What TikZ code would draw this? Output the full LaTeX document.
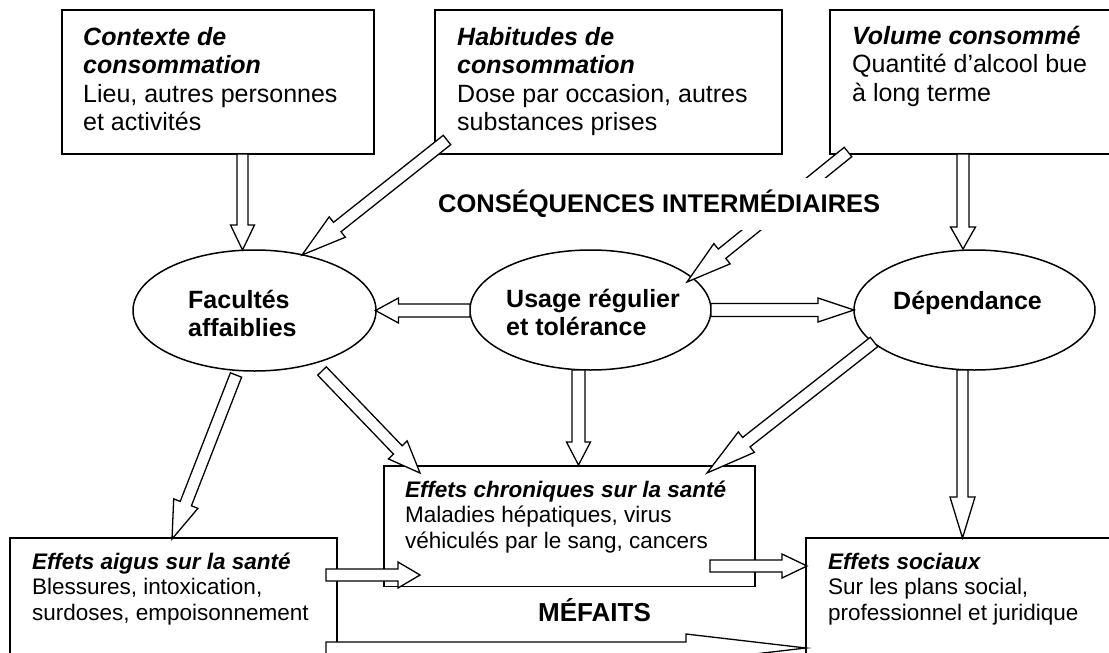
\documentclass[tikz,border=0pt]{standalone}
\usepackage{fontspec}
\setmainfont{Liberation Sans}
\usetikzlibrary{calc,shapes.geometric}
\newcommand{\bigfont}{\fontsize{25}{28.4}\selectfont}
\newcommand{\smallfont}{\fontsize{22.5}{25.7}\selectfont}
\newcommand{\ellfont}{\fontsize{25}{28.5}\selectfont\bfseries}
\newcommand{\hd}[1]{\textbf{\textit{#1}}}
% tail, tip, head length, head half width, shaft half width
\newcommand{\hollowarrow}[5]{%
  \draw[harrow] let \p1=($(#2)-(#1)$), \n1={atan2(\y1,\x1)} in
    ($(#1)+(\n1+90:#5pt)$)
 -- ($(#2)+(\n1+180:#3pt)+(\n1+90:#5pt)$)
 -- ($(#2)+(\n1+180:#3pt)+(\n1+90:#4pt)$)
 -- (#2)
 -- ($(#2)+(\n1+180:#3pt)+(\n1-90:#4pt)$)
 -- ($(#2)+(\n1+180:#3pt)+(\n1-90:#5pt)$)
 -- ($(#1)+(\n1-90:#5pt)$) -- cycle;}
\begin{document}
\begin{tikzpicture}[x=1pt,y=-1pt,
  box/.style={draw,line width=1.6pt,fill=white,inner sep=0pt,outer sep=0pt,anchor=north west},
  ell/.style={ellipse,draw,line width=1.5pt,fill=white,inner sep=0pt,outer sep=0pt},
  harrow/.style={draw,line width=1.3pt,fill=white,line join=miter},
  txt/.style={inner sep=0pt,anchor=north west,align=left},
  bigtxt/.style={txt,font=\bigfont},
  smtxt/.style={txt,font=\smallfont},
  elltxt/.style={txt,font=\ellfont},
  heading/.style={fill=white,font=\fontsize{25.5}{30}\selectfont\bfseries,anchor=base west}]
\clip (0,0) rectangle (1109,653);
\fill[white] (0,0) rectangle (1109,653);
% ellipses
\node[ell,minimum width=243pt,minimum height=121pt] (e1) at (254.5,310.5) {};
\node[ell,minimum width=241pt,minimum height=120pt] (e2) at (590.5,310) {};
\node[ell,minimum width=241pt,minimum height=120pt] (e3) at (974.5,310) {};
% boxes
\node[box,minimum width=312pt,minimum height=144pt] (b1) at (62,10) {};
\node[box,minimum width=347pt,minimum height=144pt] (b2) at (435,10) {};
\node[box,minimum width=300pt,minimum height=144pt] (b3) at (830,10) {};
\node[box,minimum width=371pt,minimum height=120.5pt] (b4) at (384,466) {};
\node[box,minimum width=327pt,minimum height=140pt] (b5) at (10,538) {};
\node[box,minimum width=320pt,minimum height=140pt] (b6) at (806,538) {};
% arrow end points
\coordinate (a1s) at (242.5,154);  \coordinate (a1e) at (242.5,250);
\coordinate (a2s) at (447,140);    \coordinate (a2e) at (302,255);
\coordinate (a3s) at (470,310.5);  \coordinate (a3e) at (375.5,310.5);
\coordinate (a4s) at (711,310);    \coordinate (a4e) at (854,310);
\coordinate (a5s) at (848,152);    \coordinate (a5e) at (687,282);
\coordinate (a6s) at (963,154);    \coordinate (a6e) at (963,249);
\coordinate (a7s) at (236,375);    \coordinate (a7e) at (172,539);
\coordinate (a8s) at (322,371);    \coordinate (a8e) at (420,473);
\coordinate (a9s) at (578.5,370);  \coordinate (a9e) at (578.5,465);
\coordinate (a10s) at (874,342);   \coordinate (a10e) at (707,473);
\coordinate (a11s) at (962.5,370); \coordinate (a11e) at (962.5,538);
\coordinate (a12s) at (326,575);   \coordinate (a12e) at (420,575);
\coordinate (a13s) at (710,566);   \coordinate (a13e) at (807,566);
\coordinate (a14s) at (326,648);   \coordinate (a14e) at (806,648);
\hollowarrow{a1s}{a1e}{25}{12}{5.5}
\hollowarrow{a2s}{a2e}{45}{13}{6}
\hollowarrow{a3s}{a3e}{23}{12.5}{6.5}
\hollowarrow{a4s}{a4e}{36}{12}{6.5}
\hollowarrow{a5s}{a5e}{45}{13}{6}
\hollowarrow{a6s}{a6e}{22}{12.5}{6}
\hollowarrow{a7s}{a7e}{38}{13}{6}
\hollowarrow{a8s}{a8e}{32}{13}{6}
\hollowarrow{a9s}{a9e}{23}{12}{6.5}
\hollowarrow{a10s}{a10e}{50}{13}{6}
\hollowarrow{a11s}{a11e}{41}{12.5}{5.5}
\hollowarrow{a12s}{a12e}{22}{13}{6}
\hollowarrow{a13s}{a13e}{25}{12}{6}
\hollowarrow{a14s}{a14e}{120}{14}{6}
% texts
\node[bigtxt] (t1) at (83,21) {\rule{0pt}{24pt}\hd{Contexte de}\\\hd{consommation}\\Lieu, autres personnes\\et activités};
\node[bigtxt] (t2) at (457,21) {\rule{0pt}{24pt}\hd{Habitudes de}\\\hd{consommation}\\Dose par occasion, autres\\substances prises};
\node[bigtxt] (t3) at (852,20) {\rule{0pt}{24pt}\hd{Volume consommé}\\Quantité d’alcool bue\\à long terme};
\node[smtxt] (t4) at (405,475.5) {\rule{0pt}{21.5pt}\hd{Effets chroniques sur la santé}\\Maladies hépatiques, virus\\véhiculés par le sang, cancers};
\node[smtxt] (t5) at (32,547.5) {\rule{0pt}{21.5pt}\hd{Effets aigus sur la santé}\\Blessures, intoxication,\\surdoses, empoisonnement};
\node[smtxt] (t6) at (828,547.5) {\rule{0pt}{21.5pt}\hd{Effets sociaux}\\Sur les plans social,\\professionnel et juridique};
\node[elltxt] (t7) at (188,284) {\rule{0pt}{24pt}Facultés\\affaiblies};
\node[elltxt] (t8) at (506,283) {\rule{0pt}{24pt}Usage régulier\\et tolérance};
\node[elltxt] (t9) at (893,285) {\rule{0pt}{24pt}Dépendance};
\node[heading,inner xsep=4pt,inner ysep=12pt] (h1) at (434,212.5) {CONSÉQUENCES INTERMÉDIAIRES};
\node[heading,fill=none,inner sep=0pt,font=\fontsize{26}{30}\selectfont\bfseries] (h2) at (538,621) {MÉFAITS};
\end{tikzpicture}
\end{document}
